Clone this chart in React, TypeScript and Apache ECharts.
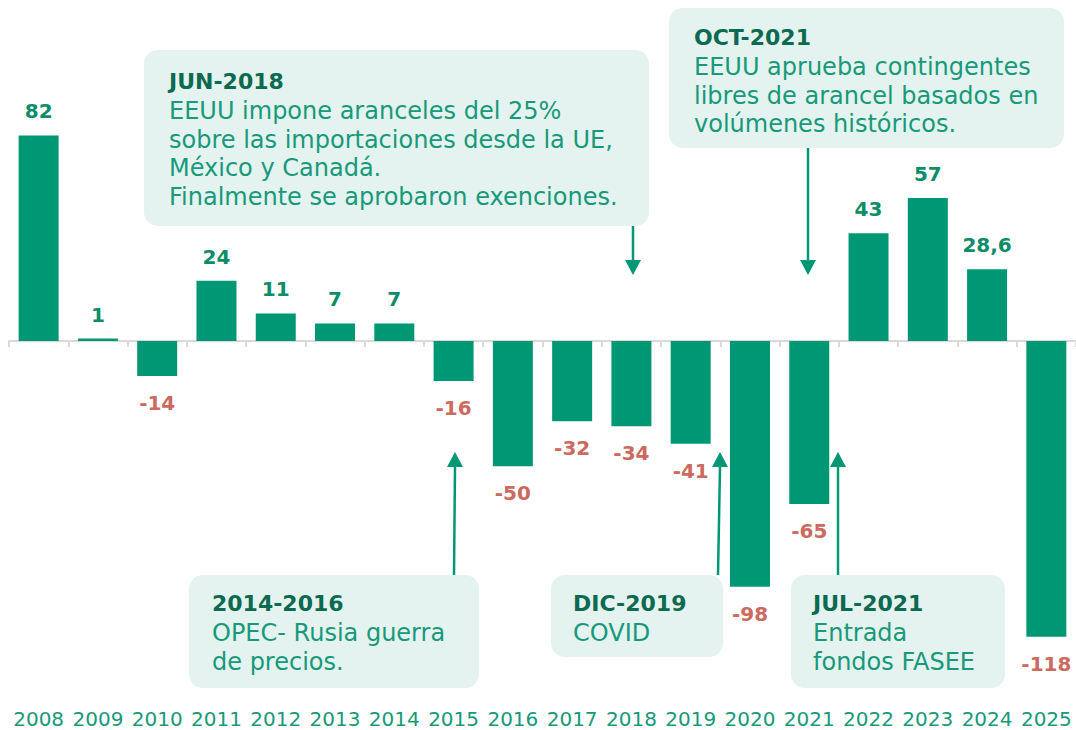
import React, { useEffect, useRef } from "react";
import * as echarts from "echarts";

const years = ["2008","2009","2010","2011","2012","2013","2014","2015","2016","2017","2018","2019","2020","2021","2022","2023","2024","2025"];
const values = [82, 1, -14, 24, 11, 7, 7, -16, -50, -32, -34, -41, -98, -65, 43, 57, 28.6, -118];

const BAR = "#009874";
const POS = "#0d8c6a";
const NEG = "#cc6a60";
const TITLE = "#0b6a4f";
const BODY = "#17997a";
const BOX = "#e4f3ef";
const FONT = "'DejaVu Sans', sans-serif";

type Note = {
  box: [number, number, number, number];
  tx: number;
  titleY: number;
  title: string;
  lines: string[];
  arrow: [number, number, number, number];
};

const notes: Note[] = [
  { box: [144, 50, 505, 176], tx: 169, titleY: 81, title: "JUN-2018",
    lines: ["EEUU impone aranceles del 25%", "sobre las importaciones desde la UE,", "México y Canadá.", "Finalmente se aprobaron exenciones."],
    arrow: [633, 226, 633, 275] },
  { box: [669, 8, 395, 140], tx: 694, titleY: 37, title: "OCT-2021",
    lines: ["EEUU aprueba contingentes", "libres de arancel basados en", "volúmenes históricos."],
    arrow: [808, 148, 808, 275] },
  { box: [189, 575, 290, 113], tx: 212, titleY: 603, title: "2014-2016",
    lines: ["OPEC- Rusia guerra", "de precios."],
    arrow: [454, 575, 455, 452] },
  { box: [551, 575, 172, 82], tx: 573, titleY: 603, title: "DIC-2019",
    lines: ["COVID"],
    arrow: [718, 575, 720, 452] },
  { box: [791, 575, 214, 113], tx: 813, titleY: 603, title: "JUL-2021",
    lines: ["Entrada", "fondos FASEE"],
    arrow: [838, 575, 838, 452] },
];

function buildGraphics() {
  const els: any[] = [];
  notes.forEach((n) => {
    const [x, y, w, h] = n.box;
    els.push({ type: "rect", shape: { x, y, width: w, height: h, r: 14 }, style: { fill: BOX }, z: 1 });
    els.push({ type: "text", x: n.tx, y: n.titleY, style: { text: n.title, font: `bold 22px ${FONT}`, fill: TITLE, textVerticalAlign: "middle" }, z: 2 });
    els.push({ type: "text", x: n.tx, y: n.titleY + 30 - 14.5, style: { text: n.lines.join("\n"), font: `24px ${FONT}`, lineHeight: 28.7, fill: BODY, textVerticalAlign: "top" }, z: 2 });
    const [x1, y1, x2, y2] = n.arrow;
    const dir = y2 > y1 ? 1 : -1;
    const hb = y2 - dir * 15;
    els.push({ type: "line", shape: { x1, y1, x2, y2: hb }, style: { stroke: BAR, lineWidth: 2.5 }, z: 2 });
    els.push({ type: "polygon", shape: { points: [[x2 - 8, hb], [x2 + 8, hb], [x2, y2]] }, style: { fill: BAR }, z: 2 });
  });
  return els;
}

export default function App() {
  const ref = useRef<HTMLDivElement>(null);
  useEffect(() => {
    if (!ref.current) return;
    const chart = echarts.init(ref.current, undefined, { renderer: "svg" });
    const fmt = (p: any) => String(p.value).replace(".", ",");
    chart.setOption({
      animation: false,
      grid: { left: 9, width: 1067, top: 90.3, height: 601.7 },
      xAxis: [
        {
          type: "category", data: years,
          axisLine: { onZero: true, lineStyle: { color: "#d9d9d9", width: 2 } },
          axisTick: { show: true, length: 6, lineStyle: { color: "#d9d9d9", width: 2 } },
          axisLabel: { show: false },
        },
        {
          type: "category", data: years, position: "bottom",
          axisLine: { show: false, onZero: false }, axisTick: { show: false },
          axisLabel: { color: BODY, fontSize: 20, fontFamily: FONT, margin: 17, interval: 0, hideOverlap: false },
        },
      ],
      yAxis: { type: "value", min: -140, max: 100, show: false, splitLine: { show: false } },
      series: [
        {
          type: "bar", xAxisIndex: 0, barWidth: 40,
          itemStyle: { color: BAR },
          data: values.map((v) => ({
            value: v,
            label: {
              show: true,
              position: v >= 0 ? "top" : "bottom",
              distance: v >= 0 ? 14 : 17,
              color: v >= 0 ? POS : NEG,
              fontWeight: "bold", fontSize: 20, fontFamily: FONT,
              formatter: fmt,
            },
          })),
        },
      ],
      graphic: buildGraphics(),
    });
    return () => chart.dispose();
  }, []);
  return <div ref={ref} style={{ position: "absolute", left: 0, top: 0, width: 1076, height: 730, background: "#fff" }} />;
}
